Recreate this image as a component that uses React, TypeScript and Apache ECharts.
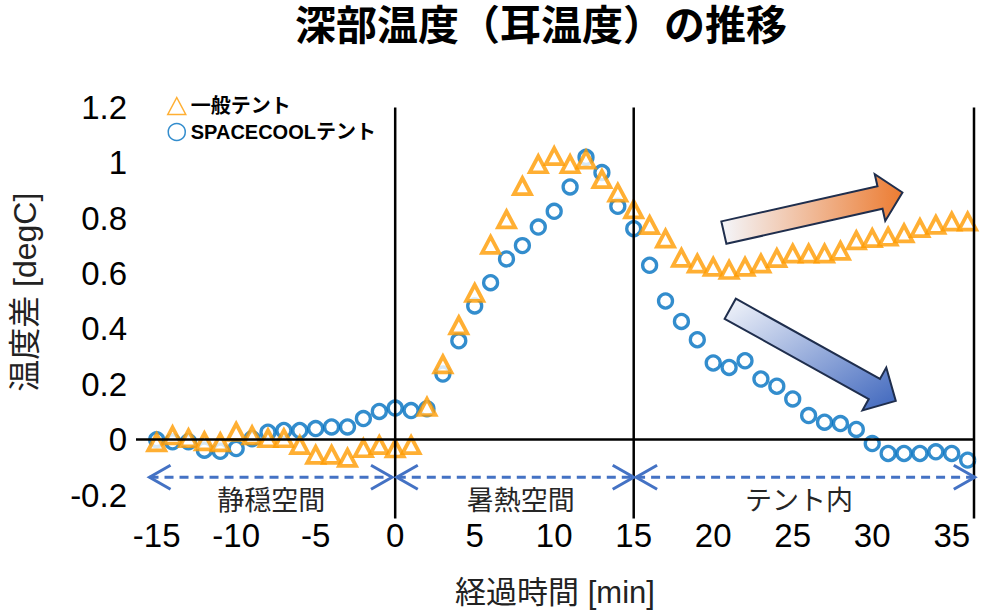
import React, { useEffect, useRef } from "react";
import * as echarts from "echarts";

// ---- data ----
const minutes = [
  -15, -14, -13, -12, -11, -10, -9, -8, -7, -6, -5, -4, -3, -2, -1, 0,
  1, 2, 3, 4, 5, 6, 7, 8, 9, 10, 11, 12, 13, 14, 15, 16, 17, 18, 19, 20,
  21, 22, 23, 24, 25, 26, 27, 28, 29, 30, 31, 32, 33, 34, 35, 36,
];
const generalTent = [
  -0.01, 0.015, 0.005, -0.006, -0.01, 0.028, 0.015, 0.005, 0.005, -0.02, -0.055, -0.055, -0.066, -0.031, -0.02, -0.032,
  -0.02, 0.118, 0.272, 0.413, 0.53, 0.704, 0.796, 0.916, 0.995, 1.024, 0.995, 1.012, 0.941, 0.892, 0.832, 0.775, 0.726, 0.657, 0.636, 0.624,
  0.613, 0.624, 0.636, 0.656, 0.672, 0.672, 0.672, 0.682, 0.72, 0.728, 0.733, 0.745, 0.764, 0.776, 0.788, 0.788,
];
const spacecoolTent = [
  0.0, -0.008, -0.008, -0.038, -0.042, -0.032, 0.003, 0.027, 0.033, 0.033, 0.04, 0.046, 0.046, 0.076, 0.102, 0.114,
  0.105, 0.112, 0.237, 0.357, 0.483, 0.567, 0.653, 0.701, 0.768, 0.825, 0.913, 1.02, 0.965, 0.843, 0.762, 0.63, 0.501, 0.427, 0.361, 0.277,
  0.261, 0.285, 0.219, 0.193, 0.147, 0.087, 0.063, 0.058, 0.037, -0.014, -0.05, -0.05, -0.05, -0.044, -0.05, -0.074,
];
const seriesNames = ["一般テント", "SPACECOOLテント"];
const xTickValues = [-15, -10, -5, 0, 5, 10, 15, 20, 25, 30, 35];
const phaseLabels = ["静穏空間", "暑熱空間", "テント内"];
const phaseStarts = [-15.45, 0.1, 15.15];
const phaseEnds = [-0.2, 15.0, 36.45];
const phaseLabelX = [-7.8, 7.9, 25.4];
const dividerX = [0, 15];

const X_MIN = -16.3;
const X_MAX = 36.4;
const Y_MIN = -0.2;
const Y_MAX = 1.2;

const ORANGE = "#FF9B00";
const BLUE = "#0070C0";
const LATIN = "'Liberation Sans', 'Noto Sans CJK JP', sans-serif";
const CJK = "'Noto Sans CJK JP', 'Liberation Sans', sans-serif";

function arrowPoints(t: number[], p: number[], hw: number, hh: number, hl: number) {
  const dx = p[0] - t[0];
  const dy = p[1] - t[1];
  const len = Math.hypot(dx, dy);
  const ux = dx / len;
  const uy = dy / len;
  const nx = -uy;
  const ny = ux;
  const bx = p[0] - ux * hl;
  const by = p[1] - uy * hl;
  return [
    [t[0] + nx * hw, t[1] + ny * hw],
    [bx + nx * hw, by + ny * hw],
    [bx + nx * hh, by + ny * hh],
    [p[0], p[1]],
    [bx - nx * hh, by - ny * hh],
    [bx - nx * hw, by - ny * hw],
    [t[0] - nx * hw, t[1] - ny * hw],
  ];
}

export default function App() {
  const ref = useRef<HTMLDivElement>(null);

  useEffect(() => {
    if (!ref.current) return;
    const chart = echarts.init(ref.current, null, { renderer: "svg" });

    const option: any = {
      animation: false,
      backgroundColor: "#ffffff",
      title: {
        text: "深部温度（耳温度）の推移",
        left: 295,
        top: 1,
        padding: 0,
        textStyle: { fontFamily: CJK, fontWeight: "bold", fontSize: 41, color: "#000" },
      },
      grid: { left: 136, right: 11, top: 107.5, bottom: 117 },
      legend: {
        orient: "vertical",
        left: 162,
        top: 91,
        itemWidth: 18,
        itemHeight: 17,
        itemGap: 6,
        itemStyle: { borderWidth: 1.5 },
        textStyle: { fontFamily: LATIN, fontWeight: "bold", fontSize: 20, color: "#000" },
        data: [
          { name: seriesNames[0], icon: "triangle", itemStyle: { color: "rgba(0,0,0,0)", borderColor: ORANGE, borderWidth: 1.5 } },
          { name: seriesNames[1], icon: "circle", itemStyle: { color: "rgba(0,0,0,0)", borderColor: BLUE, borderWidth: 1.5 } },
        ],
      },
      xAxis: {
        type: "value",
        min: X_MIN,
        max: X_MAX,
        axisLine: { show: false },
        axisTick: { show: false },
        splitLine: { show: false },
        axisLabel: { customValues: xTickValues, fontSize: 33, color: "#000", fontFamily: LATIN, margin: 24 },
        name: "経過時間 [min]",
        nameLocation: "middle",
        nameGap: 82,
        nameTextStyle: { fontSize: 31, color: "#222", fontFamily: LATIN },
      },
      yAxis: {
        type: "value",
        min: Y_MIN,
        max: Y_MAX,
        interval: 0.2,
        axisLine: { show: false },
        axisTick: { show: false },
        splitLine: { show: false },
        axisLabel: {
          fontSize: 33,
          color: "#000",
          fontFamily: LATIN,
          margin: 9,
          formatter: (v: number) => String(Math.round(v * 10) / 10),
        },
        name: "温度差 [degC]",
        nameLocation: "middle",
        nameGap: 95,
        nameRotate: 90,
        nameTextStyle: { fontSize: 32, color: "#222", fontFamily: LATIN, padding: [0, 0, 0, 18] },
      },
      series: [
        {
          name: seriesNames[1],
          type: "scatter",
          symbol: "circle",
          symbolSize: 14,
          itemStyle: { color: "#ffffff", borderColor: BLUE, borderWidth: 3.3 },
          data: minutes.map((m, i) => [m, spacecoolTent[i]]),
          z: 3,
        },
        {
          name: seriesNames[0],
          type: "scatter",
          symbol: "triangle",
          symbolSize: [17, 16],
          itemStyle: { color: "#ffffff", borderColor: ORANGE, borderWidth: 3.8 },
          data: minutes.map((m, i) => [m, generalTent[i]]),
          z: 4,
        },
        {
          name: "zero",
          type: "line",
          data: [],
          z: 1,
          markLine: {
            silent: true,
            symbol: ["none", "none"],
            label: { show: false },
            lineStyle: { color: "#000", width: 2.5, type: "solid" },
            data: [{ yAxis: 0 }],
          },
        },
      ],
    };
    chart.setOption(option);

    const px = (x: number, y: number) => chart.convertToPixel({ gridIndex: 0 }, [x, y]) as number[];
    const graphics: any[] = [];

    // vertical divider lines and right border
    const lineBottom = -0.285;
    [...dividerX, X_MAX].forEach((xv) => {
      const a = px(xv, Y_MAX);
      const b = px(xv, lineBottom);
      graphics.push({
        type: "line",
        z: 10,
        shape: { x1: a[0], y1: a[1], x2: b[0], y2: b[1] },
        style: { stroke: "#000", lineWidth: 2.5 },
      });
    });

    // phase dashed double arrows and labels
    const arrowY = -0.136;
    const labelY = -0.212;
    phaseLabels.forEach((lab, i) => {
      const s = px(phaseStarts[i], arrowY);
      const e = px(phaseEnds[i], arrowY);
      graphics.push({
        type: "line",
        z: 10,
        shape: { x1: s[0], y1: s[1], x2: e[0], y2: e[1] },
        style: { stroke: "#4472C4", lineWidth: 3, lineDash: [9, 6] },
      });
      graphics.push({
        type: "polyline",
        z: 10,
        shape: { points: [[s[0] + 21, s[1] - 12], [s[0], s[1]], [s[0] + 21, s[1] + 12]] },
        style: { stroke: "#4472C4", lineWidth: 3, fill: null },
      });
      graphics.push({
        type: "polyline",
        z: 10,
        shape: { points: [[e[0] - 21, e[1] - 12], [e[0], e[1]], [e[0] - 21, e[1] + 12]] },
        style: { stroke: "#4472C4", lineWidth: 3, fill: null },
      });
      const lp = px(phaseLabelX[i], labelY);
      graphics.push({
        type: "text",
        z: 10,
        x: lp[0],
        y: lp[1],
        style: {
          text: lab,
          fontSize: 27,
          fontFamily: CJK,
          fill: "#262626",
          align: "center",
          verticalAlign: "middle",
        },
      });
    });

    // trend block arrows
    const upTail = px(20.67, 0.748);
    const upTip = px(31.9, 0.893);
    const downTail = px(21.07, 0.473);
    const downTip = px(31.48, 0.14);
    graphics.push({
      type: "polygon",
      z: 9,
      shape: { points: arrowPoints(upTail, upTip, 11.5, 24, 23) },
      style: {
        fill: {
          type: "linear", x: 0, y: 0, x2: 1, y2: 0,
          colorStops: [
            { offset: 0, color: "#F4F6FB" },
            { offset: 1, color: "#EC7C32" },
          ],
        },
        stroke: "#1F2E4D",
        lineWidth: 2,
      },
    });
    graphics.push({
      type: "polygon",
      z: 9,
      shape: { points: arrowPoints(downTail, downTip, 11.5, 24.5, 24.5) },
      style: {
        fill: {
          type: "linear", x: 0, y: 0, x2: 1, y2: 1,
          colorStops: [
            { offset: 0, color: "#F4F6FB" },
            { offset: 1, color: "#3E66BD" },
          ],
        },
        stroke: "#1F2E4D",
        lineWidth: 2,
      },
    });

    chart.setOption({ graphic: graphics });

    return () => chart.dispose();
  }, []);

  return (
    <div
      ref={ref}
      style={{ position: "fixed", left: 0, top: 0, width: 985, height: 613, background: "#fff" }}
    />
  );
}
